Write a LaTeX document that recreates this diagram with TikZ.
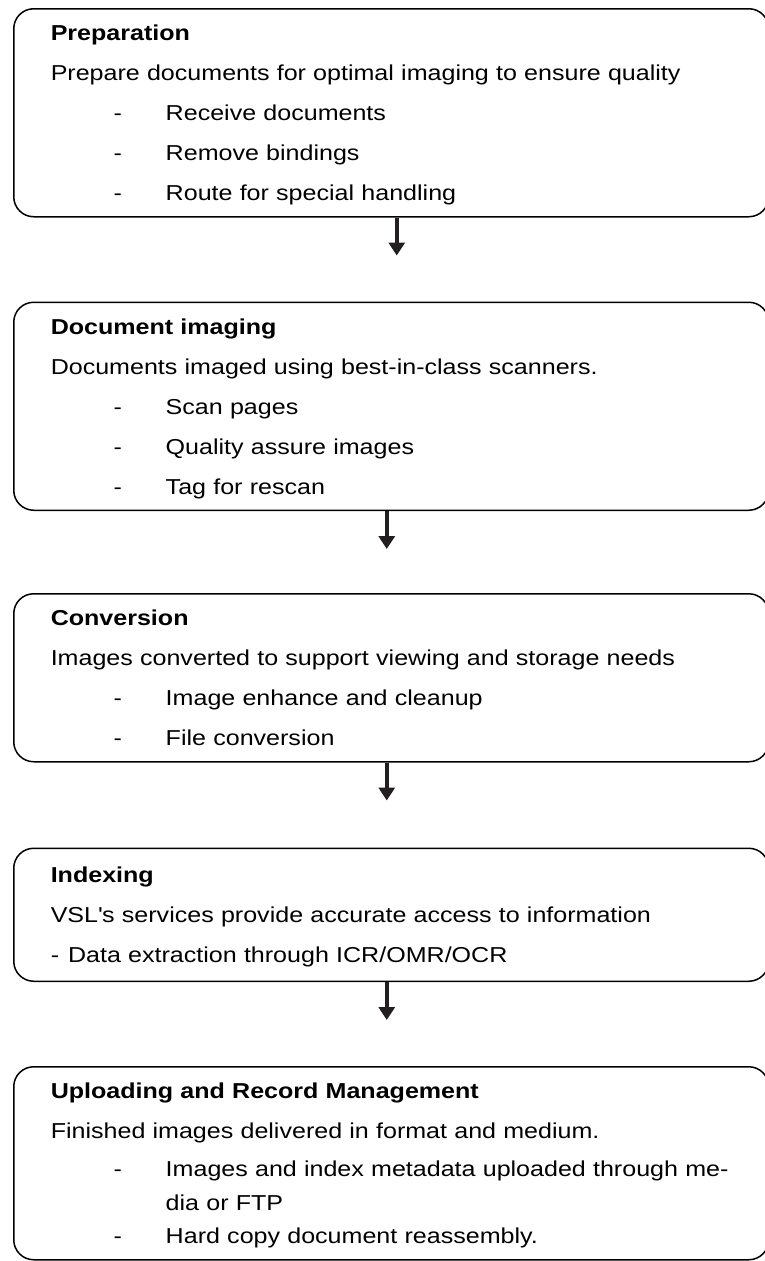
\documentclass[tikz,border=0pt]{standalone}
\usepackage{fontspec}
\setmainfont{Liberation Sans}[FakeStretch=1.16]
\usetikzlibrary{positioning,arrows.meta}

\definecolor{arrowdark}{HTML}{231F20}

% list entries: dash, then the text at a fixed indent
\newcommand{\itm}[1]{\makebox[115pt][l]{\hspace*{63pt}-}#1}
\newcommand{\wrapitm}[1]{\hspace*{115pt}#1}
% struts for the first and the last line of a box
\newcommand{\topstrut}{\rule{0pt}{22pt}}
\newcommand{\botstrut}{\rule[-6pt]{0pt}{6pt}}

\tikzset{
    stage/.style={draw, line width=1.5pt, rounded corners=20pt,
        text width=681pt, inner xsep=37pt, inner ysep=10pt, align=left,
        font=\fontsize{21.6}{40}\selectfont},
    flow/.style={-{Triangle[length=13pt,width=16pt]}, line width=3.5pt, arrowdark}
}

\begin{document}
\begin{tikzpicture}
        \useasboundingbox (0,0) rectangle (764pt,-1261pt);

        % Stages
        \node[stage, anchor=north west] (prep) at (13pt,-8pt) {\topstrut\textbf{Preparation}\\
            Prepare documents for optimal imaging to ensure quality\\
            \itm{Receive documents}\\
            \itm{Remove bindings}\\
            \itm{Route for special handling}\botstrut};

        \node[stage, below=84pt of prep] (imaging) {\topstrut\textbf{Document imaging}\\
            Documents imaged using best-in-class scanners.\\
            \itm{Scan pages}\\
            \itm{Quality assure images}\\
            \itm{Tag for rescan}\botstrut};

        \node[stage, below=82pt of imaging] (conv) {\topstrut\textbf{Conversion}\\
            Images converted to support viewing and storage needs\\
            \itm{Image enhance and cleanup}\\
            \itm{File conversion}\botstrut};

        \node[stage, below=85pt of conv, minimum height=133pt] (index) {\topstrut\textbf{Indexing}\\
            VSL\textquotesingle s services provide accurate access to information\\
            -\hspace*{9pt}Data extraction through ICR/OMR/OCR\botstrut};

        \node[stage, below=84pt of index] (upload) {\topstrut\textbf{Uploading and Record Management}\\
            Finished images delivered in format and medium.\\[-2pt]
            \itm{Images and index metadata uploaded through me-}\\[-6pt]
            \wrapitm{dia or FTP}\\[-7pt]
            \itm{Hard copy document reassembly.}\botstrut};

        % Arrow ends
        \coordinate[below=38pt of prep.south, xshift=5.5pt] (a1);
        \coordinate[below=38pt of imaging.south, xshift=-4.5pt] (a2);
        \coordinate[below=38pt of conv.south, xshift=-4.5pt] (a3);
        \coordinate[below=38pt of index.south, xshift=-4.5pt] (a4);

        % Arrows between the stages
        \draw[flow] (prep.south -| a1) -- (a1);
        \draw[flow] (imaging.south -| a2) -- (a2);
        \draw[flow] (conv.south -| a3) -- (a3);
        \draw[flow] (index.south -| a4) -- (a4);
    \end{tikzpicture}
\end{document}
